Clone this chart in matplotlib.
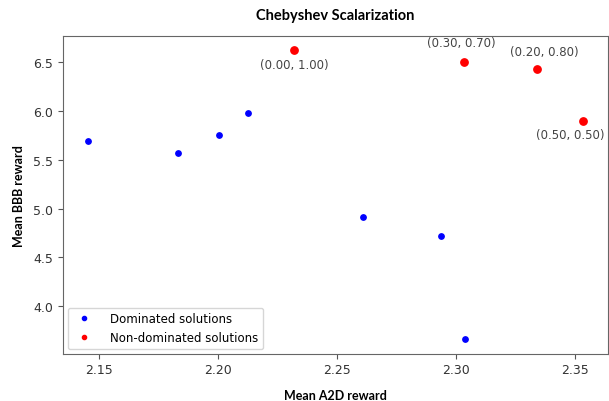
import matplotlib
matplotlib.use("Agg")
import matplotlib.pyplot as plt

# dominated solutions (blue)
DOM_A2D = [2.1454, 2.1835, 2.2004, 2.2126, 2.2610, 2.2940, 2.3038]
DOM_BBB = [5.69, 5.573, 5.759, 5.98, 4.913, 4.718, 3.660]

# non-dominated solutions (red) and their weight labels
NONDOM_A2D = [2.2320, 2.3035, 2.3343, 2.3535]
NONDOM_BBB = [6.625, 6.501, 6.429, 5.90]
NONDOM_LABELS = ["(0.00, 1.00)", "(0.30, 0.70)", "(0.20, 0.80)", "(0.50, 0.50)"]

LABEL_OFFSETS = [(0, -10), (-2, 14), (5, 13), (-9, -10)]

TITLE_FONT = ["Lato", "DejaVu Sans"]


def main() -> None:
    fig = plt.figure(figsize=(6.09, 4.02), dpi=100)
    ax = fig.add_axes([0.1034, 0.1177, 0.8946, 0.791])

    ax.scatter(DOM_A2D, DOM_BBB, s=15, color="blue", label="Dominated solutions")
    ax.scatter(NONDOM_A2D, NONDOM_BBB, s=28, color="red", label="Non-dominated solutions")

    for x, y, text, (dx, dy) in zip(NONDOM_A2D, NONDOM_BBB, NONDOM_LABELS, LABEL_OFFSETS):
        ax.annotate(
            text,
            (x, y),
            xytext=(dx, dy),
            textcoords="offset points",
            ha="center",
            va="center",
            fontsize=8.5,
            color="#444444",
        )

    ax.set_xticks([2.15, 2.20, 2.25, 2.30, 2.35])
    ax.set_yticks([4.0, 4.5, 5.0, 5.5, 6.0, 6.5])
    ax.tick_params(labelsize=9, labelcolor="#333333", color="#555555")
    for spine in ax.spines.values():
        spine.set_color("#666666")

    ax.set_title("Chebyshev Scalarization", fontsize=10.5, fontweight="bold",
                 family=TITLE_FONT, pad=12)
    ax.set_xlabel("Mean A2D reward", fontsize=9, fontweight="bold",
                  family=TITLE_FONT, labelpad=9)
    ax.set_ylabel("Mean BBB reward", fontsize=9, fontweight="bold",
                  family=TITLE_FONT, labelpad=6)

    leg_handles = [
        plt.Line2D([], [], marker="o", linestyle="", color="blue", markersize=3),
        plt.Line2D([], [], marker="o", linestyle="", color="red", markersize=3),
    ]
    ax.legend(leg_handles, ["Dominated solutions", "Non-dominated solutions"],
              loc="lower left", fontsize=8.5, handletextpad=1.2,
              borderaxespad=0.4)

    fig.savefig("out.png", dpi=100)


if __name__ == "__main__":
    main()
